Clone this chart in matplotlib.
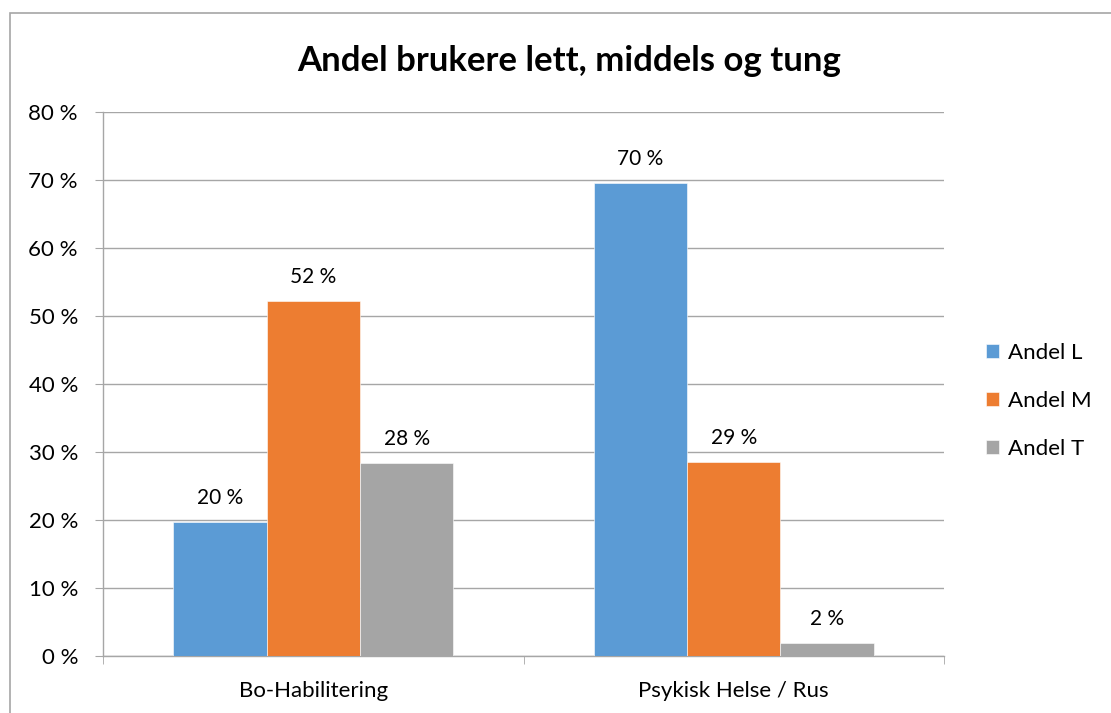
import matplotlib
matplotlib.use("Agg")
import matplotlib.pyplot as plt
from matplotlib.patches import Rectangle
from matplotlib.ticker import FuncFormatter
import numpy as np

plt.rcParams['font.family'] = ['Lato', 'DejaVu Sans']

categories = ["Bo-Habilitering", "Psykisk Helse / Rus"]
series_names = ["Andel L", "Andel M", "Andel T"]
andel_l = [0.197, 0.696]
andel_m = [0.522, 0.286]
andel_t = [0.284, 0.019]
colors = ["#5B9BD5", "#ED7D31", "#A5A5A5"]

fig = plt.figure(figsize=(11.11, 7.13), dpi=100)
fig.patch.set_facecolor("white")
# chart frame
fig.add_artist(Rectangle((10 / 1111, -0.01), 1.02, 1 - 13 / 713 + 0.01,
                         transform=fig.transFigure, fill=False,
                         edgecolor="#A6A6A6", linewidth=1.2))

ax = fig.add_axes([103 / 1111, 57 / 713, 841 / 1111, 544 / 713])
x = np.arange(len(categories))
width = 0.222
offsets = [-width, 0, width]
for vals, name, col, off in zip([andel_l, andel_m, andel_t], series_names, colors, offsets):
    bars = ax.bar(x + off, vals, width, color=col, label=name, zorder=3,
                  edgecolor="white", linewidth=0.4)
    for b, v in zip(bars, vals):
        ax.annotate(f"{v * 100:.0f} %", (b.get_x() + b.get_width() / 2, v),
                    xytext=(0, 10), textcoords="offset points",
                    ha="center", va="bottom", fontsize=15, color="#000000")

ax.set_xlim(-0.5, 1.5)
ax.set_ylim(0, 0.8)
ax.set_yticks(np.arange(0, 0.81, 0.1))
ax.yaxis.set_major_formatter(FuncFormatter(lambda v, p: f"{v * 100:.0f} %"))
ax.set_xticks(x)
ax.set_xticklabels(categories)
ax.set_xticks([-0.5, 0.5, 1.5], minor=True)
ax.tick_params(axis="x", which="major", length=0, pad=18, labelsize=16)
ax.tick_params(axis="x", which="minor", length=6, color="#A6A6A6")
ax.tick_params(axis="y", length=6, color="#A6A6A6", labelsize=16, pad=12)
ax.grid(axis="y", color="#A6A6A6", linewidth=1, zorder=0)
for s in ["top", "right"]:
    ax.spines[s].set_visible(False)
for s in ["left", "bottom"]:
    ax.spines[s].set_color("#A6A6A6")
    ax.spines[s].set_linewidth(1)

fig.text(569 / 1111, 1 - 61 / 713, "Andel brukere lett, middels og tung",
         ha="center", va="center", fontsize=25, fontweight="bold")

leg = ax.legend(loc="center left", bbox_to_anchor=(1.05, 0.469), frameon=False,
                fontsize=16, handlelength=0.6, handleheight=0.6,
                labelspacing=1.25, handletextpad=0.4, borderpad=0,
                borderaxespad=0)

fig.savefig("out.png", dpi=100, facecolor="white")
